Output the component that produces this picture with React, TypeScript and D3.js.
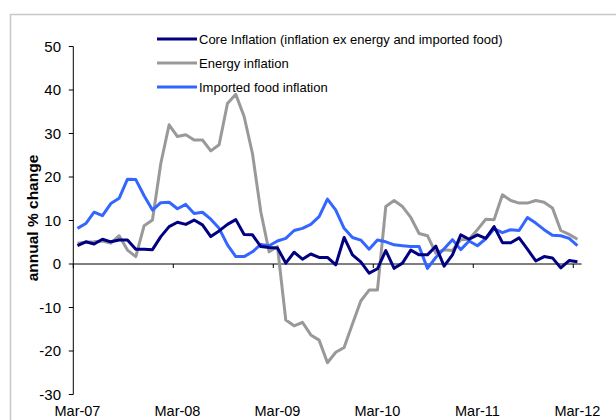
import React from "react";
import * as d3 from "d3";

const months: string[] = (() => {
  const names = ["Jan","Feb","Mar","Apr","May","Jun","Jul","Aug","Sep","Oct","Nov","Dec"];
  const out: string[] = [];
  for (let k = 0; k < 61; k++) {
    const m = (2 + k) % 12;
    const y = 7 + Math.floor((2 + k) / 12);
    out.push(`${names[m]}-${String(y).padStart(2, "0")}`);
  }
  return out;
})();

const coreInflation = [4.2, 5.1, 4.6, 5.7, 5.1, 5.5, 5.5, 3.4, 3.4, 3.3, 6.3, 8.6, 9.6, 9.1, 10.1, 9.0, 6.3, 7.6, 9.1, 10.2,
  6.8, 6.7, 4.0, 3.8, 3.7, 0.2, 2.7, 1.1, 2.3, 1.5, 1.5, -0.2, 6.1, 2.1, 0.5, -2.1, -1.1, 3.1, -1.0, 0.2,
  3.2, 2.1, 2.1, 4.1, -0.5, 2.1, 6.7, 5.7, 6.7, 5.9, 8.6, 4.9, 4.9, 6.0, 3.4, 0.7, 1.7, 1.4, -0.9, 0.8, 0.5];

const energyInflation = [4.8, 5.0, 5.1, 5.3, 4.8, 6.5, 3.2, 1.7, 8.8, 10.1, 23.1, 32.0, 29.3, 29.7, 28.5, 28.5, 26.0, 27.4, 36.9, 39.0,
  33.9, 25.4, 12.0, 2.8, 4.0, -12.9, -14.2, -13.4, -16.3, -17.5, -22.7, -20.3, -19.2, -13.8, -8.5, -6.0, -6.0, 13.2, 14.6, 13.2,
  10.7, 7.0, 6.5, 2.5, 3.3, 3.1, 5.6, 5.7, 7.9, 10.3, 10.2, 15.9, 14.6, 14.0, 14.0, 14.6, 14.2, 12.9, 7.7, 6.8, 5.7];

const importedFoodInflation = [8.2, 9.3, 11.9, 11.1, 13.9, 15.1, 19.5, 19.4, 15.7, 12.4, 14.1, 14.2, 12.7, 13.7, 11.6, 11.9, 10.3, 8.2, 4.4, 1.7,
  1.7, 2.8, 4.5, 4.2, 5.3, 5.9, 7.7, 8.2, 9.1, 10.9, 14.9, 12.4, 8.2, 6.1, 5.5, 3.4, 5.5, 5.1, 4.4, 4.2,
  4.0, 4.0, -1.0, 1.5, 3.5, 5.6, 3.3, 5.3, 4.2, 5.8, 8.1, 7.2, 7.9, 7.7, 10.7, 9.4, 7.9, 6.6, 6.5, 5.9, 4.2];

const seriesNames = [
  "Core Inflation (inflation ex energy and imported food)",
  "Energy inflation",
  "Imported food inflation",
];
const seriesColors = ["#000080", "#999999", "#3366FF"];
const yTicks = [-30, -20, -10, 0, 10, 20, 30, 40, 50];
const xLabelIdx = [0, 12, 24, 36, 48, 60];

const FONT = "'Liberation Sans', Arial, sans-serif";

export default function App() {
  const W = 616, H = 420;
  const left = 73.3, right = 581.6, top = 46.5, bottom = 394.5;
  const x = d3.scaleLinear().domain([0, months.length]).range([left, right]);
  const y = d3.scaleLinear().domain([-30, 50]).range([bottom, top]);
  const line = d3.line<number>().x((_, i) => x(i + 0.5)).y((d) => y(d));
  const all = [coreInflation, energyInflation, importedFoodInflation];
  const drawOrder = [1, 2, 0];

  return (
    <svg width={W} height={H} style={{ position: "absolute", left: 0, top: 0, background: "#fff" }}>
      <rect x={10.5} y={14.5} width={640} height={440} fill="#fff" stroke="#c8c8c8" strokeWidth={1.5} />
      {/* y axis */}
      <line x1={left} x2={left} y1={top} y2={bottom} stroke="#000" strokeWidth={1} />
      {yTicks.map((t) => (
        <g key={t}>
          <line x1={left - 4.5} x2={left} y1={y(t)} y2={y(t)} stroke="#000" />
          <text x={61} y={y(t)} dy="0.36em" textAnchor="end" fontFamily={FONT} fontSize={15} fill="#000">{t}</text>
        </g>
      ))}
      <text transform={`translate(38,218) rotate(-90)`} textAnchor="middle" fontFamily={FONT} fontSize={15.5} fontWeight="bold" fill="#000">annual % change</text>
      {/* x axis at zero */}
      <line x1={left} x2={right} y1={y(0)} y2={y(0)} stroke="#000" strokeWidth={1} />
      {xLabelIdx.map((i) => (
        <g key={i}>
          <line x1={x(i)} x2={x(i)} y1={y(0)} y2={y(0) + 4} stroke="#000" />
          <text x={x(i + 0.5)} y={416} textAnchor="middle" fontFamily={FONT} fontSize={14.5} fill="#000">{months[i]}</text>
        </g>
      ))}
      {drawOrder.map((k) => (
        <path key={k} d={line(all[k]) || ""} fill="none" stroke={seriesColors[k]} strokeWidth={3} strokeLinejoin="round" />
      ))}
      {/* legend */}
      {seriesNames.map((n, k) => (
        <g key={n} transform={`translate(157,${39 + k * 24})`}>
          <line x1={0} x2={40} y1={0} y2={0} stroke={seriesColors[k]} strokeWidth={3} />
          <text x={42} y={0} dy="0.35em" fontFamily={FONT} fontSize={13} fill="#000">{n}</text>
        </g>
      ))}
    </svg>
  );
}
